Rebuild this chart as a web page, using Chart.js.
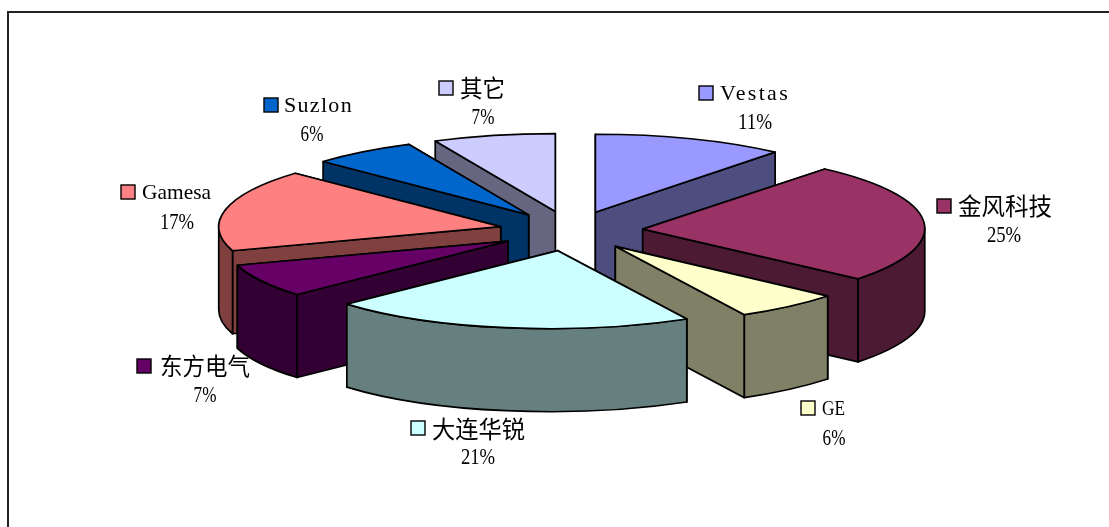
<!DOCTYPE html>
<html><head><meta charset="utf-8">
<style>html,body{margin:0;padding:0;background:#fff}canvas{display:block}</style>
<script src="https://cdn.jsdelivr.net/npm/chart.js@4"></script>
</head><body><canvas id="c" width="1109" height="527"></canvas>
<script>
const categories = ['Vestas','金风科技','GE','大连华锐','东方电气','Gamesa','Suzlon','其它'];
const shares = [11,25,6,21,7,17,6,7];
const colors = ['#9999FF','#993366','#FFFFCC','#CCFFFF','#660066','#FF8080','#0066CC','#CCCCFF'];

const SQUASH = 78/282, DEPTH = 83, LINE = 1.7, EXPLODE = 72;
// label layout: marker x, marker y, name x, name width, name y, percent centre x, percent y
const labelLayout = [
  [699,86,720,70,93,755,122],[937,199,958,94,206,1004,235],[801,401,822,23,408,834,438],
  [411,421,432,93,429,478,457],[137,359,160,90,366,205,395],[121,185,142,69,192,177,222],
  [264,98,284,69,105,312,134],[439,81,460,45,88,483,117]
];
const shade = h => '#'+[1,3,5].map(i=>Math.round(parseInt(h.substr(i,2),16)/2).toString(16).padStart(2,'0')).join('');
// slight perspective lean of the near slices
const lean = mid => Math.min(0.1, Math.max(0, 0.32*(Math.sin(mid)+0.218)));

const pie3d = {
  id:'pie3d',
  beforeDatasetsDraw(chart){
    const ctx = chart.ctx, arcs = chart.getDatasetMeta(0).data;
    const m = a => (a.startAngle+a.endAngle)/2;
    const order = arcs.map((a,i)=>i).sort((p,q)=>Math.sin(m(arcs[p]))-Math.sin(m(arcs[q])));
    const cy = arcs[0].y;
    for(const i of order){
      const a=arcs[i], mid=m(a), R=a.outerRadius, s=lean(mid);
      const edge=-Math.atan(s*SQUASH), dx=s*DEPTH;
      const ox=EXPLODE*Math.cos(mid), oy=EXPLODE*Math.sin(mid);
      const ax=a.x+ox, ay=cy+SQUASH*oy;
      const pt=t=>[ax+R*Math.cos(t), ay+SQUASH*R*Math.sin(t)];
      ctx.save();
      ctx.lineJoin='round'; ctx.lineWidth=LINE; ctx.strokeStyle='#000';
      ctx.transform(1,0,-s,1,s*cy,0);
      ctx.fillStyle=shade(colors[i]);
      const face=t=>{const [x,y]=pt(t);ctx.beginPath();ctx.moveTo(ax,ay);ctx.lineTo(x,y);ctx.lineTo(x+dx,y+DEPTH);ctx.lineTo(ax+dx,ay+DEPTH);ctx.closePath();ctx.fill();ctx.stroke();};
      [a.startAngle,a.endAngle].sort((p,q)=>Math.sin(p)-Math.sin(q)).forEach(face);
      // outer wall: the part of the rim on the near side
      for(let k=-1;k<=1;k++){
        const lo=Math.max(a.startAngle,edge+2*Math.PI*k), hi=Math.min(a.endAngle,edge+Math.PI+2*Math.PI*k);
        if(hi>lo){
          ctx.beginPath();
          ctx.ellipse(ax,ay,R,SQUASH*R,0,lo,hi);
          ctx.ellipse(ax+dx,ay+DEPTH,R,SQUASH*R,0,hi,lo,true);
          ctx.closePath();ctx.fill();ctx.stroke();
        }
      }
      ctx.save();
      ctx.translate(0,cy);ctx.scale(1,SQUASH);ctx.translate(0,-cy);
      ctx.translate(ox,oy);
      a.draw(ctx);
      ctx.restore();
      ctx.beginPath();
      ctx.moveTo(ax,ay);
      ctx.ellipse(ax,ay,R,SQUASH*R,0,a.startAngle,a.endAngle);
      ctx.closePath();ctx.stroke();
      ctx.restore();
    }
    return false;
  },
  afterDraw(chart){
    const ctx=chart.ctx;
    ctx.save();
    ctx.fillStyle='#222';
    ctx.fillRect(7,11,1102,2);ctx.fillRect(7,11,2,516);
    ctx.textBaseline='middle';
    categories.forEach((name,i)=>{
      const [mx,my,nx,nw,ny,px,py]=labelLayout[i];
      ctx.fillStyle=colors[i];ctx.strokeStyle='#000';ctx.lineWidth=1.4;
      ctx.fillRect(mx,my,14,14);ctx.strokeRect(mx,my,14,14);
      ctx.fillStyle='#000';ctx.textAlign='left';
      const cjk=/[^\x00-\x7f]/.test(name);
      ctx.font=cjk?'23.5px "Noto Sans CJK SC"':'22px "Liberation Serif"';
      ctx.letterSpacing='0px';
      const w=ctx.measureText(name).width;
      if(w<nw&&!cjk) ctx.letterSpacing=((nw-w)/name.length).toFixed(2)+'px';
      ctx.fillText(name,nx,ny+(cjk?0:1),nw);
      ctx.letterSpacing='0px';
      ctx.font='23px "Liberation Serif"';ctx.textAlign='center';
      const t=shares[i]+'%';
      ctx.fillText(t,px,py+1,t.length*11.4);
    });
    ctx.restore();
  }
};

new Chart(document.getElementById('c'),{
  type:'pie',
  data:{labels:categories,datasets:[{data:shares,backgroundColor:colors,borderWidth:0}]},
  options:{
    responsive:false,animation:false,devicePixelRatio:1,radius:282,
    layout:{padding:{left:33,bottom:65}},
    plugins:{legend:{display:false},tooltip:{enabled:false}}
  },
  plugins:[pie3d]
});
</script></body></html>
